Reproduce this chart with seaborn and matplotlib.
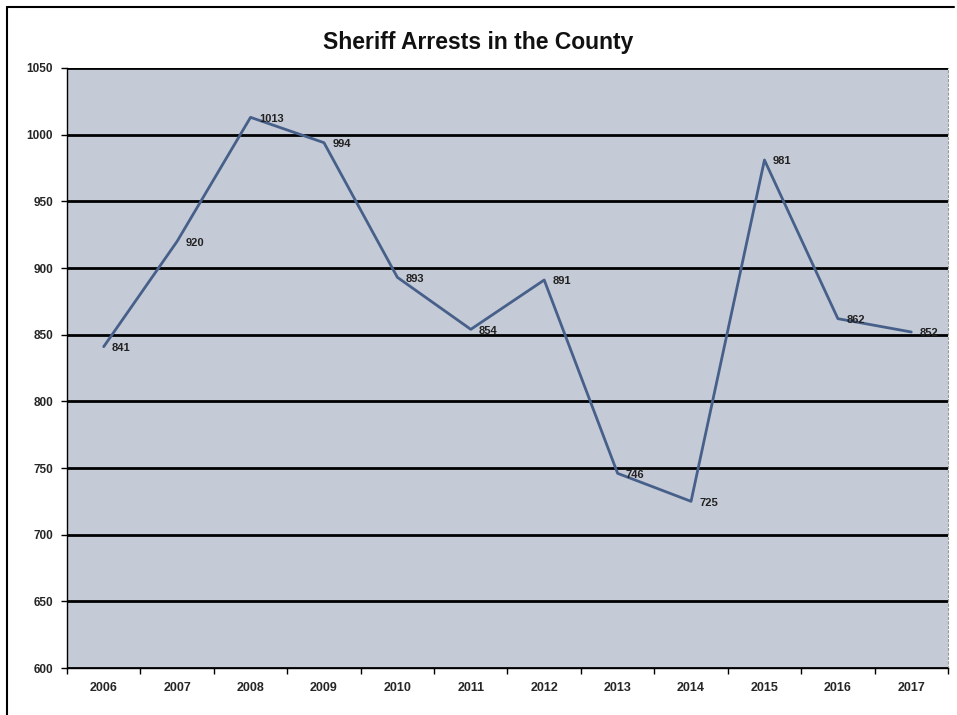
import matplotlib
matplotlib.use("Agg")
import matplotlib.pyplot as plt
import seaborn as sns
import pandas as pd
import numpy as np
from matplotlib.lines import Line2D

years = ["2006", "2007", "2008", "2009", "2010", "2011", "2012", "2013", "2014", "2015", "2016", "2017"]
arrests = [841, 920, 1013, 994, 893, 854, 891, 746, 725, 981, 862, 852]
y_ticks = [600, 650, 700, 750, 800, 850, 900, 950, 1000, 1050]

sns.set_theme(style="white")
plt.rcParams['font.family'] = ['Liberation Sans', 'DejaVu Sans']

df = pd.DataFrame({"pos": np.arange(len(years)), "year": years, "arrests": arrests})

fig = plt.figure(figsize=(9.57, 7.15), dpi=100)
fig.patch.set_facecolor("white")
ax = fig.add_axes([0.070, 0.0657, 0.9206, 0.8392])
ax.set_facecolor("#c5cad7")

for v in y_ticks:
    ax.axhline(v, color="black", lw=2.0, zorder=1)

sns.lineplot(data=df, x="pos", y="arrests", ax=ax, color="#46608a", lw=2.0, zorder=3)

for i, v in enumerate(arrests):
    ax.annotate(str(v), (i, v), xytext=(6, -1), textcoords="offset points",
                fontsize=8, fontweight="bold", color="#222222", va="center", ha="left", zorder=4)

ax.set_xlim(-0.5, len(years) - 0.5)
ax.set_ylim(600, 1050)
ax.set_yticks(y_ticks)
ax.set_yticklabels([str(v) for v in y_ticks], fontsize=8.5, fontweight="bold")
ax.set_xticks(np.arange(len(years)))
ax.set_xticklabels(years, fontsize=9, fontweight="bold")
ax.set_xticks(np.arange(len(years) + 1) - 0.5, minor=True)
ax.tick_params(axis="x", which="major", length=0, pad=10)
ax.tick_params(axis="x", which="minor", length=4, width=1, color="black", direction="out", bottom=True)
ax.tick_params(axis="y", which="major", length=4, width=1, color="black", direction="out", left=True, pad=6)
ax.set_xlabel("")
ax.set_ylabel("")

for s in ["left", "bottom"]:
    ax.spines[s].set_color("black")
    ax.spines[s].set_linewidth(1.0)
ax.spines["top"].set_visible(False)
ax.spines["right"].set_color("#9a9a9a")
ax.spines["right"].set_linestyle((0, (2, 2)))
ax.spines["right"].set_linewidth(0.8)

fig.text(0.4995, 0.941, "Sheriff Arrests in the County", ha="center", va="center",
         fontsize=16.5, fontweight="bold", color="#111111")

# outer chart border (left, top)
fig.add_artist(Line2D([0.0075, 0.0075], [0.0, 0.990], color="black", lw=1.5, transform=fig.transFigure))
fig.add_artist(Line2D([0.0075, 0.997], [0.990, 0.990], color="black", lw=1.5, transform=fig.transFigure))

fig.savefig("out.png", dpi=100, facecolor="white")
